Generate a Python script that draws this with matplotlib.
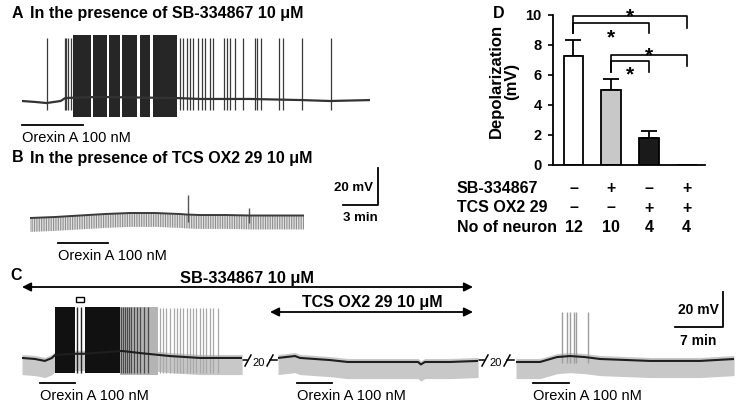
import numpy as np
import matplotlib
matplotlib.use('Agg')
import matplotlib.pyplot as plt
import matplotlib.transforms as mtrans
from matplotlib.patches import Rectangle

plt.rcParams['font.family'] = ['Liberation Sans', 'DejaVu Sans']
plt.rcParams['hatch.linewidth'] = 0.8

W, H = 737, 403

# ── Panel A: SB-334867 (time in min, Vm in mV) ──────────────────────────────
a_base_t = [0, 1.1, 2.1, 3.3, 3.7, 6.5, 13.2, 15.2, 19.5, 23.9, 26.3, 29.7]
a_base_v = [-60, -60.5, -61.1, -60, -58.4, -57.8, -58.4, -58.9, -58.9, -59.5, -60, -59.5]
a_block_start = [4.36, 6.07, 7.44, 8.55, 10.09, 11.20]
a_block_end = [5.90, 7.26, 8.38, 9.83, 10.94, 13.25]
a_spike_t = [2.14, 3.68, 3.80, 3.93, 4.15, 13.50, 13.79, 14.08, 14.36, 14.64,
             15.07, 15.36, 15.64, 16.07, 16.30, 17.26, 17.55, 17.78, 18.21,
             18.91, 19.91, 20.11, 20.40, 21.99, 22.33, 23.91, 26.38]
a_orexin = (0.0, 5.2)

# ── Panel B: TCS OX2 29 ─────────────────────────────────────────────────────
b_base_t = [0, 2.14, 4.27, 6.41, 8.55, 10.68, 12.82, 13.33, 14.53, 16.67, 18.8, 20.94, 23.42]
b_base_v = [-60, -59.46, -58.65, -57.84, -57.3, -57.3, -57.84, -58.11, -58.38,
            -58.38, -58.65, -58.65, -58.65]
b_spike_t = [13.5, 18.7]
b_spike_peak = [-47.6, -54.6]
b_orexin = (2.39, 6.67)
b_scale = (3, 20)   # min, mV

# ── Panel C: three segments ─────────────────────────────────────────────────
c1_base_t = [0, 1.9, 3.3, 4.3, 4.8, 7.7, 9.1, 14.5, 17.1, 21.4, 25.8, 31.9]
c1_base_v = [-59.4, -60, -61.1, -59.5, -57.7, -57, -57, -55.4, -56.6, -58.3, -59.4, -59.4]
c1_block_start = [4.78, 9.13]
c1_block_end = [7.68, 14.2]
c1_thin_t = [8.01, 8.55]
c1_dark_spike_t = [14.35, 14.64, 14.93, 15.22, 15.51, 15.8, 16.23, 16.67, 17.1, 17.68, 18.26]
c1_gray_block = (14.2, 19.7)
c1_gray_spike_t = [20.0, 20.43, 20.87, 21.45, 22.03, 22.46, 22.9, 23.33, 23.91, 24.35,
                   24.78, 25.22, 25.8, 26.23, 26.67, 27.25, 27.68, 28.41]
c2_base_t = [0, 2.46, 3.19, 7.54, 10.1, 17.7, 20.3, 20.7, 21.3, 24.9, 29.0]
c2_base_v = [-59.4, -58.3, -59.4, -60.6, -61.7, -61.7, -61.7, -63.1, -61.7, -61.7, -61.1]
c3_base_t = [0, 3.48, 5.94, 7.83, 10.0, 12.2, 19.4, 26.7, 31.6]
c3_base_v = [-61.7, -61.7, -58.9, -58.3, -58.9, -60, -61.1, -61.1, -60]
c3_spike_t = [6.62, 7.35, 7.83, 8.41, 8.70, 10.48]
c_orexin = [(2.6, 7.7), (2.7, 7.8), (2.46, 7.68)]
c_scale = (7, 20)

# ── Panel D: depolarization bars ────────────────────────────────────────────
d_mean = [7.25, 5.0, 1.8, 0.0]
d_sem = [1.05, 0.72, 0.5, 0.0]
d_colors = ['white', '#c8c8c8', '#1a1a1a', 'white']
d_sb = ['–', '+', '–', '+']
d_tcs = ['–', '–', '+', '+']
d_n = ['12', '10', '4', '4']
sig_pairs = [(0, 3), (0, 2), (1, 3), (1, 2)]
sig_top = [9.93, 9.49, 7.33, 6.93]
sig_left_drop = [8.8, 8.8, 6.22, 6.22]
sig_right_drop = [9.13, 8.8, 6.6, 6.22]
sig_star_y = [10.27, 8.89, 7.67, 6.4]

fig = plt.figure(figsize=(W / 100, H / 100), dpi=100)
ov = fig.add_axes([0, 0, 1, 1])
ov.set_xlim(0, W)
ov.set_ylim(H, 0)
ov.axis('off')


def px_axes(x0, x1, y0, y1):
    return fig.add_axes([x0 / W, 1 - y1 / H, (x1 - x0) / W, (y1 - y0) / H])


def trace_axes(x0, x1, y0, y1, px_min, px_mv, py_ref, v_ref=-60):
    ax = px_axes(x0, x1, y0, y1)
    ax.set_xlim(0, (x1 - x0) / px_min)
    ax.set_ylim(v_ref - (y1 - py_ref) / px_mv, v_ref + (py_ref - y0) / px_mv)
    ax.axis('off')
    return ax


def orexin(ax, span, py):
    tr = mtrans.blended_transform_factory(ax.transData, ov.transData)
    ax.plot(span, [py, py], transform=tr, color='k', lw=1.3, clip_on=False)
    ax.text(span[0], py + 17, 'Orexin A 100 nM', transform=tr, ha='left',
            va='baseline', fontsize=10.5, clip_on=False)


def title(letter, text, y):
    ov.text(12, y, letter, fontsize=11.5, weight='bold', va='baseline')
    ov.text(30, y, text, fontsize=11.5, weight='bold', va='baseline')


# ── A ──
title('A', 'In the presence of SB-334867 10 μM', 18)
axA = trace_axes(22, 370, 30, 122, 11.7, 1.85, 101)
for s, e in zip(a_block_start, a_block_end):
    axA.fill_between([s, e], -68.6, -24.5, color='#262626', lw=0)
axA.vlines(a_spike_t, -64.9, -26.0, colors='#3a3a3a', lw=0.9)
axA.plot(a_base_t, a_base_v, color='#333333', lw=1.6)
orexin(axA, a_orexin, 125)

# ── B ──
title('B', 'In the presence of TCS OX2 29 10 μM', 162.5)
axB = trace_axes(30, 304, 190, 235, 11.7, 1.85, 218)
bv = np.array(b_base_v)
axB.fill_between(b_base_t, bv, bv - 7.5, facecolor='#e2e2e2', edgecolor='#8e8e8e',
                 hatch='|||||||', lw=0)
for t, p in zip(b_spike_t, b_spike_peak):
    base = np.interp(t, b_base_t, b_base_v)
    axB.vlines(t, base - 4, p, colors='#555555', lw=1.0)
axB.plot(b_base_t, b_base_v, color='#3a3a3a', lw=1.4)
orexin(axB, b_orexin, 243)
tb0 = 29.75
vb0 = -52.97
axB.plot([tb0 - b_scale[0], tb0, tb0], [vb0, vb0, vb0 + b_scale[1]], color='k',
         lw=1.3, clip_on=False)
ov.text(354, 191, f'{b_scale[1]} mV', fontsize=9.5, weight='bold', ha='center', va='baseline')
ov.text(360, 221, f'{b_scale[0]} min', fontsize=9.5, weight='bold', ha='center', va='baseline')

# ── C ──
ov.text(10, 280, 'C', fontsize=11.5, weight='bold', va='baseline')
arrow = dict(arrowstyle='<|-|>', color='k', lw=1.3, mutation_scale=13, shrinkA=0, shrinkB=0)
ov.annotate('', xy=(22, 287), xytext=(473, 287), arrowprops=arrow)
ov.annotate('', xy=(270, 312), xytext=(473, 312), arrowprops=arrow)
ov.text(247, 282.5, 'SB-334867 10 μM', fontsize=11.8, weight='bold', ha='center', va='baseline')
ov.text(372, 307.5, 'TCS OX2 29 10 μM', fontsize=11.5, weight='bold', ha='center', va='baseline')

seg_px = [(22, 242), (278, 478), (516, 734)]
seg_t = [c1_base_t, c2_base_t, c3_base_t]
seg_v = [c1_base_v, c2_base_v, c3_base_v]
c_axes = []
for (x0, x1), t, v, ore in zip(seg_px, seg_t, seg_v, c_orexin):
    ax = trace_axes(x0, x1, 290, 385, 6.9, 1.75, 359)
    vv = np.array(v)
    ax.fill_between(t, vv + 2.0, vv - 9.5, color='#c8c8c8', lw=0)
    c_axes.append(ax)
    orexin(ax, ore, 383)

ax1, ax2, ax3 = c_axes
ax1.fill_between(c1_gray_block, -69, -30.5, color='#b4b4b4', lw=0)
ax1.vlines(c1_gray_spike_t, -68, -31, colors='#a8a8a8', lw=0.9)
ax1.vlines(c1_dark_spike_t, -68, -30.5, colors='#4a4a4a', lw=0.9)
for s, e in zip(c1_block_start, c1_block_end):
    ax1.fill_between([s, e], -68, -30.3, color='#111111', lw=0)
ax1.vlines(c1_thin_t, -68, -30.3, colors='#222222', lw=1.0)
ax1.add_patch(Rectangle((7.83, -27.4), 1.17, 2.8, fill=False, ec='k', lw=1.0, clip_on=False))
ax3.vlines(c3_spike_t, -62, -33, colors='#9e9e9e', lw=1.0)
for ax, t, v in zip(c_axes, seg_t, seg_v):
    ax.plot(t, v, color='#1e1e1e', lw=1.5)

tc0, vc0 = 30.04, -41.5
ax3.plot([tc0 - c_scale[0], tc0, tc0], [vc0, vc0, vc0 + c_scale[1]], color='k',
         lw=1.3, clip_on=False)
ov.text(698, 314, f'{c_scale[1]} mV', fontsize=10, weight='bold', ha='center', va='baseline')
ov.text(698, 345, f'{c_scale[0]} min', fontsize=10, weight='bold', ha='center', va='baseline')

# break marks between segments
for bx in (245, 482):
    ov.plot([bx - 4, bx + 2], [360, 360], color='k', lw=1.1)
    ov.plot([bx, bx + 6], [366, 355], color='k', lw=1.1)
    ov.text(bx + 14, 365.5, '20', fontsize=8, ha='center', va='baseline')
    ov.plot([bx + 22, bx + 28], [366, 355], color='k', lw=1.1)
    ov.plot([bx + 25, bx + 32], [360, 360], color='k', lw=1.1)

# ── D ──
ov.text(493, 18, 'D', fontsize=11.5, weight='bold', va='baseline')
axD = px_axes(553, 705, 15, 165)
xd = np.arange(len(d_mean))
axD.bar(xd, d_mean, 0.53, color=d_colors, edgecolor='k', lw=1.3, zorder=2)
axD.errorbar(xd[:3], d_mean[:3], yerr=[np.zeros(3), d_sem[:3]], fmt='none',
             ecolor='k', elinewidth=1.3, capsize=6, capthick=1.3, zorder=1)
axD.set_xlim(-0.544, 3.49)
axD.set_ylim(0, 10)
axD.set_yticks([0, 2, 4, 6, 8, 10])
axD.set_xticks([])
axD.tick_params(axis='y', direction='out', length=3.6, width=1.2, labelsize=10.5, pad=4.5)
for lab in axD.get_yticklabels():
    lab.set_fontweight('bold')
for sp in ['top', 'right']:
    axD.spines[sp].set_visible(False)
for sp in ['left', 'bottom']:
    axD.spines[sp].set_linewidth(1.3)

for (i, j), top, ld, rd, sy in zip(sig_pairs, sig_top, sig_left_drop, sig_right_drop, sig_star_y):
    axD.plot([i, i, j, j], [ld, top, top, rd], color='k', lw=1.2, clip_on=False)
    axD.annotate('*', ((i + j) / 2, sy), xytext=(0, -8.3), textcoords='offset points',
                 ha='center', va='baseline', fontsize=15, weight='bold',
                 annotation_clip=False)

ov.text(504, 81, 'Depolarization\n(mV)', rotation=90, ha='center', va='center',
        multialignment='center', fontsize=12, weight='bold', linespacing=1.05)

trD = mtrans.blended_transform_factory(axD.transData, ov.transData)
rows = [('SB-334867', d_sb, 193), ('TCS OX2 29', d_tcs, 212.5), ('No of neuron', d_n, 232)]
for name, vals, y in rows:
    ov.text(457, y, name, fontsize=11.5, weight='bold', ha='left', va='baseline')
    for k, s in enumerate(vals):
        axD.text(k, y, s, transform=trD, fontsize=11.5, weight='bold', ha='center',
                 va='baseline', clip_on=False)

fig.savefig('out.png', dpi=100)
